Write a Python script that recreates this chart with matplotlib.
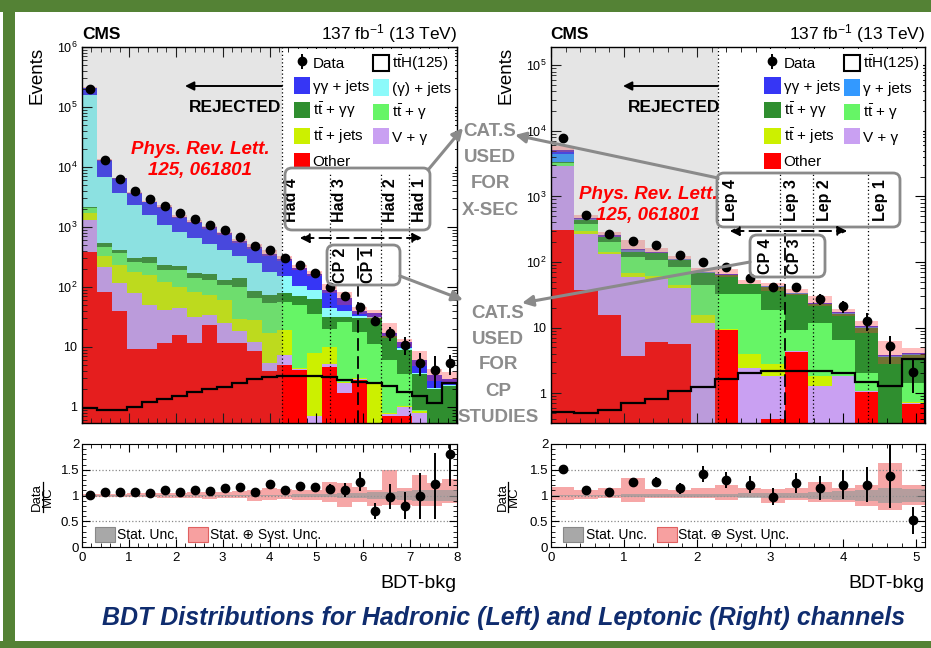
import numpy as np
import matplotlib
matplotlib.use('Agg')
import matplotlib.pyplot as plt
from matplotlib.patches import FancyBboxPatch, Rectangle, Patch, FancyArrowPatch
from matplotlib.lines import Line2D
from matplotlib.ticker import MultipleLocator, FixedLocator, NullFormatter, FuncFormatter

plt.rcParams['font.family'] = ['Liberation Sans', 'DejaVu Sans']
plt.rcParams['mathtext.fontset'] = 'custom'
plt.rcParams['mathtext.rm'] = 'Liberation Sans'
plt.rcParams['mathtext.it'] = 'Liberation Sans:italic'
plt.rcParams['mathtext.bf'] = 'Liberation Sans:bold'

# ---------------- DATA ----------------
had_edges = np.linspace(0, 8, 26)          # 25 bins of 0.32
lep_edges = np.linspace(0, 5.12, 17)       # 16 bins of 0.32

# Hadronic channel stack components (bottom -> top)
had_other = [390, 84, 40, 9.1, 9.1, 11.8, 15.8, 11.8, 23, 11.8, 11.8, 8.4, 4, 5, 4.1, 0.4, 4.7, 1.7, 2.8, 0.4, 0.7, 0.7, 0.4, 0.1, 0.1]
had_vg    = [910, 131, 75, 69, 41, 29, 28, 20, 11, 13, 7, 3.9, 1.3, 2.4, 0.2, 0.3, 0.5, 0.8, 0.1, 0.1, 0.05, 0.3, 0.4, 0.1, 0.1]
had_ttj   = [400, 110, 118, 102, 108, 82, 57, 52, 40, 36, 11, 16, 12, 12, 0.2, 7.3, 4.8, 0.1, 0.1, 2.0, 0.05, 0.05, 0.05, 0.05, 0.05]
had_ttg   = [400, 140, 130, 85, 90, 69, 91, 59, 57, 47, 71, 37, 37, 36, 45.5, 28, 10, 23.4, 15, 8.5, 5.2, 2.45, 0.05, 0.05, 0.05]
had_ttgg  = [50, 85, 52, 35, 64, 41, 32, 30, 32, 23, 42, 19, 20, 23, 20, 26, 12, 6, 12, 19, 9, 5.5, 2.6, 1.7, 1.9]
had_gj    = [158000, 6350, 3225, 2030, 1278, 847, 611, 472, 352, 284, 187, 163, 106, 72, 35, 28, 12, 7, 3, 1, 0.5, 0.5, 0.2, 0.1, 0.1]
had_gg    = [50000, 6100, 2820, 1310, 1050, 1100, 645, 585, 470, 365, 245, 221, 175, 140, 105, 75, 45, 26, 7, 6, 1.5, 2.5, 2.3, 1.3, 0.6]
had_tth   = [0.97, 0.89, 0.89, 1.01, 1.2, 1.34, 1.52, 1.8, 1.97, 2.18, 2.5, 2.9, 3.2, 3.3, 3.3, 3.3, 3.2, 2.8, 2.6, 2.5, 2.2, 1.8, 1.5, 1.18, 2.5]
had_data  = [2.0e5, 1.3e4, 6300, 4000, 2930, 2230, 1700, 1380, 1080, 890, 690, 490, 415, 300, 233, 172, 101, 71, 47, 27.5, 17, 10.8, 5.3, 4.2, 5.3]
had_data_elo = [450, 115, 80, 63, 54, 47, 41, 37, 33, 30, 26, 22, 20, 17, 15, 13, 10, 8.4, 6.9, 5.5, 4.2, 3.4, 2.0, 2.1, 1.9]
had_data_ehi = [450, 115, 80, 63, 54, 47, 41, 37, 33, 30, 26, 22, 20, 17, 15, 13, 10, 8.4, 6.9, 5.5, 4.2, 3.7, 2.5, 2.9, 2.1]

had_ratio     = [1.01, 1.06, 1.06, 1.07, 1.05, 1.10, 1.06, 1.11, 1.08, 1.15, 1.16, 1.07, 1.22, 1.11, 1.19, 1.17, 1.12, 1.11, 1.27, 0.70, 0.98, 0.80, 0.99, 1.22, 1.80]
had_ratio_elo = [0.01, 0.01, 0.01, 0.02, 0.02, 0.02, 0.02, 0.03, 0.03, 0.03, 0.04, 0.05, 0.05, 0.06, 0.06, 0.07, 0.10, 0.13, 0.19, 0.15, 0.24, 0.26, 0.44, 0.68, 0.62]
had_ratio_ehi = [0.01, 0.01, 0.01, 0.02, 0.02, 0.02, 0.02, 0.03, 0.03, 0.03, 0.04, 0.05, 0.05, 0.06, 0.06, 0.07, 0.10, 0.13, 0.19, 0.15, 0.24, 0.26, 0.44, 0.60, 0.40]
had_syst_lo = [0.97, 0.97, 0.97, 0.97, 0.97, 0.96, 0.96, 0.95, 0.94, 0.96, 0.95, 0.90, 0.92, 0.93, 0.92, 0.92, 0.88, 0.77, 0.88, 0.79, 0.82, 0.82, 0.79, 0.80, 0.85]
had_syst_hi = [1.03, 1.03, 1.03, 1.04, 1.04, 1.05, 1.05, 1.06, 1.07, 1.06, 1.08, 1.10, 1.15, 1.12, 1.10, 1.10, 1.27, 1.25, 1.17, 1.10, 1.50, 1.14, 1.40, 1.25, 1.33]
had_stat    = [0.005, 0.005, 0.005, 0.005, 0.005, 0.005, 0.005, 0.005, 0.005, 0.005, 0.005, 0.005, 0.01, 0.01, 0.02, 0.02, 0.03, 0.04, 0.05, 0.06, 0.07, 0.08, 0.10, 0.10, 0.10]

# Leptonic channel stack components (bottom -> top)
lep_other = [305, 37, 15.5, 3.7, 6.1, 5.7, 0.3, 9.1, 0.1, 0.4, 4.3, 0.35, 0.05, 1.05, 0.02, 0.69]
lep_vg    = [2600, 231, 115, 56, 49, 34, 11.3, 0.2, 2.3, 1.4, 0.05, 0.95, 1.75, 0.02, 0.02, 0.02]
lep_ttj   = [40, 34, 13, 9, 5, 4.5, 4, 0.3, 1.6, 1.0, 0.05, 0.5, 0.05, 0.02, 0.02, 0.02]
lep_ttg   = [250, 78, 60, 52, 47, 40.5, 29, 23.4, 29, 15.7, 4.8, 9.8, 4.5, 0.9, 0.02, 0.7]
lep_ttgg  = [100, 55, 33, 23, 28, 22, 24, 30, 12.5, 23.5, 23.8, 11, 9.7, 8.0, 3.5, 2.4]
lep_gj    = [1100, 18, 8, 6, 4, 2.5, 1, 1, 0.3, 0.4, 0.5, 0.6, 0.4, 0.2, 0.1, 0.1]
lep_gg    = [700, 20, 10, 10, 5, 3, 1.5, 1, 0.5, 0.6, 0.5, 0.8, 0.55, 0.3, 0.15, 0.1]
lep_tth   = [0.52, 0.50, 0.56, 0.71, 0.80, 1.08, 1.25, 1.67, 2.0, 2.2, 2.2, 2.2, 2.0, 1.5, 1.28, 3.3]
lep_data  = [7700, 525, 270, 210, 181, 128, 101, 84, 56, 42, 42, 27, 21, 12.7, 5.2, 2.1]
lep_data_elo = [88, 23, 16, 14.5, 13.5, 11.3, 10, 9.2, 7.5, 6.5, 6.5, 5.0, 4.2, 3.8, 2.4, 1.1]
lep_data_ehi = [88, 23, 16, 14.5, 13.5, 11.3, 10, 9.2, 7.5, 6.5, 6.5, 5.4, 4.6, 3.7, 2.2, 1.1]

lep_ratio     = [1.51, 1.11, 1.06, 1.27, 1.26, 1.14, 1.42, 1.30, 1.21, 0.98, 1.24, 1.14, 1.21, 1.21, 1.38, 0.52]
lep_ratio_elo = [0.02, 0.03, 0.03, 0.07, 0.09, 0.11, 0.15, 0.16, 0.17, 0.16, 0.20, 0.23, 0.28, 0.34, 0.62, 0.26]
lep_ratio_ehi = [0.02, 0.03, 0.03, 0.07, 0.09, 0.11, 0.15, 0.16, 0.17, 0.16, 0.20, 0.23, 0.28, 0.34, 0.62, 0.26]
lep_syst_lo = [0.92, 0.93, 0.95, 0.88, 0.95, 0.95, 0.95, 0.92, 0.98, 0.85, 0.92, 0.88, 0.88, 0.79, 0.72, 0.82]
lep_syst_hi = [1.17, 1.11, 1.14, 1.34, 1.12, 1.11, 1.14, 1.20, 1.14, 1.12, 1.14, 1.27, 1.14, 1.20, 1.63, 1.20]
lep_stat    = [0.01, 0.01, 0.01, 0.02, 0.02, 0.02, 0.03, 0.03, 0.04, 0.04, 0.05, 0.06, 0.08, 0.10, 0.15, 0.12]

had_cuts = [4.26, 5.28, 6.38, 6.98]
had_cut_names = ['Had 4', 'Had 3', 'Had 2', 'Had 1']
had_cp_cut = 5.88
lep_cuts = [2.29, 3.13, 3.58, 4.34]
lep_cut_names = ['Lep 4', 'Lep 3', 'Lep 2', 'Lep 1']
lep_cp_cut = 3.20

had_yticks = [1, 10, 1e2, 1e3, 1e4, 1e5, 1e6]
lep_yticks = [1, 10, 1e2, 1e3, 1e4, 1e5]
ratio_yticks = [0, 0.5, 1, 1.5, 2]
ratio_yticklabels = ['0', '0.5', '1', '1.5', '2']

comp_colors_had = ['#ff0000', '#c9a0f2', '#ccf000', '#66f566', '#2f8e2f', '#8cfafa', '#3636f5']
comp_colors_lep = ['#ff0000', '#c9a0f2', '#ccf000', '#66f566', '#2f8e2f', '#3399ff', '#3636f5']
labels_had = ['Other', 'V + γ', r'$\mathrm{t\bar{t}}$ + jets', r'$\mathrm{t\bar{t}}$ + γ', r'$\mathrm{t\bar{t}}$ + γγ', '(γ) + jets', 'γγ + jets']
labels_lep = ['Other', 'V + γ', r'$\mathrm{t\bar{t}}$ + jets', r'$\mathrm{t\bar{t}}$ + γ', r'$\mathrm{t\bar{t}}$ + γγ', 'γ + jets', 'γγ + jets']

cat_xsec_lines = ['CAT.S', 'USED', 'FOR', 'X-SEC']
cat_cp_lines = ['CAT.S', 'USED', 'FOR', 'CP', 'STUDIES']

# ---------------- FIGURE ----------------
W, H = 931, 648
fig = plt.figure(figsize=(W / 100, H / 100), dpi=100)
fig.patch.set_facecolor('white')
T = fig.dpi_scale_trans


def P(px, py):
    return (px / 100.0, (H - py) / 100.0)


def fx(px):
    return px / W


def fy(py):
    return 1 - py / H


# green frame
green = '#548235'
for (x0, y0, x1, y1) in [(0, 0, 931, 12), (3, 0, 15, 648), (0, 641, 931, 648)]:
    fig.add_artist(Rectangle(P(x0, y1), (x1 - x0) / 100, (y1 - y0) / 100, transform=T,
                             facecolor=green, edgecolor='none', zorder=0))


def logfmt(v, pos):
    e = int(round(np.log10(v)))
    if e == 0:
        return '1'
    if e == 1:
        return '10'
    return r'$10^{%d}$' % e


def minor_log_ticks(lo, hi):
    out = []
    for e in range(int(np.floor(np.log10(lo))), int(np.ceil(np.log10(hi))) + 1):
        for s in range(2, 10):
            v = s * 10.0 ** e
            if lo <= v <= hi:
                out.append(v)
    return out


def style_main(ax, xmax, ylo, yhi, yticks):
    ax.set_yscale('log')
    ax.set_xlim(0, xmax)
    ax.set_ylim(ylo, yhi)
    ax.yaxis.set_major_locator(FixedLocator(yticks))
    ax.yaxis.set_minor_locator(FixedLocator(minor_log_ticks(ylo, yhi)))
    ax.yaxis.set_major_formatter(FuncFormatter(logfmt))
    ax.yaxis.set_minor_formatter(NullFormatter())
    ax.xaxis.set_major_locator(MultipleLocator(1))
    ax.xaxis.set_minor_locator(MultipleLocator(0.2))
    ax.tick_params(which='both', direction='in', top=True, right=True, labelbottom=False, labelsize=9)
    ax.tick_params(which='major', length=7, width=0.8)
    ax.tick_params(which='minor', length=3.5, width=0.6)
    for s in ax.spines.values():
        s.set_linewidth(1.0)


def draw_main(ax, edges, comps, colors, tth, data, elo, ehi, slo, shi, cut):
    bottom = np.full(len(edges) - 1, 1e-3)
    for vals, c in zip(comps, colors):
        top = bottom + np.asarray(vals, float)
        ax.stairs(top, edges, baseline=bottom, fill=True, color=c, lw=0, zorder=1)
        bottom = top
    total = bottom
    ax.stairs(total * np.asarray(shi), edges, baseline=total * np.asarray(slo), fill=True,
              color='#ff3a3a', alpha=0.33, lw=0, zorder=2)
    ax.axvspan(0, cut, facecolor='#8c8c8c', alpha=0.22, lw=0, zorder=2.5)
    ax.stairs(tth, edges, color='black', lw=1.6, zorder=3)
    centers = 0.5 * (edges[:-1] + edges[1:])
    eb = ax.errorbar(centers, data, yerr=[elo, ehi], fmt='o', color='black', ms=6,
                     elinewidth=1.4, capsize=0, zorder=6)
    return eb


def draw_ratio(ax, edges, xmax, ratio, elo, ehi, slo, shi, stat):
    ax.set_xlim(0, xmax)
    ax.set_ylim(0, 2)
    ax.stairs(shi, edges, baseline=slo, fill=True, color='#f48a8a', alpha=0.75, lw=0, zorder=1)
    ax.stairs(1 + np.asarray(stat), edges, baseline=1 - np.asarray(stat), fill=True,
              color='#9a9a9a', alpha=0.7, lw=0, zorder=2)
    for yv in (0.5, 1.0, 1.5):
        ax.axhline(yv, color='#888888', lw=0.9, ls=':', zorder=1.5)
    centers = 0.5 * (edges[:-1] + edges[1:])
    ax.errorbar(centers, ratio, yerr=[elo, ehi], fmt='o', color='black', ms=6,
                elinewidth=1.4, capsize=0, zorder=5)
    ax.yaxis.set_major_locator(FixedLocator(ratio_yticks))
    ax.set_yticklabels(ratio_yticklabels)
    ax.yaxis.set_minor_locator(MultipleLocator(0.1))
    ax.xaxis.set_major_locator(MultipleLocator(1))
    ax.xaxis.set_minor_locator(MultipleLocator(0.2))
    ax.tick_params(which='both', direction='in', top=True, right=True, labelsize=9.5)
    ax.tick_params(axis='y', pad=2)
    ax.tick_params(which='major', length=6, width=0.8)
    ax.tick_params(which='minor', length=3, width=0.6)


# axes
axL = fig.add_axes([fx(82), fy(423), 375 / W, 376 / H])
axLr = fig.add_axes([fx(82), fy(547), 375 / W, 103 / H])
axR = fig.add_axes([fx(551), fy(423), 374 / W, 376 / H])
axRr = fig.add_axes([fx(551), fy(547), 374 / W, 103 / H])

style_main(axL, 8, 0.54, 1e6, had_yticks)
style_main(axR, 5.12, 0.35, 1.9e5, lep_yticks)

compsL = [had_other, had_vg, had_ttj, had_ttg, had_ttgg, had_gj, had_gg]
compsR = [lep_other, lep_vg, lep_ttj, lep_ttg, lep_ttgg, lep_gj, lep_gg]
ebL = draw_main(axL, had_edges, compsL, comp_colors_had, had_tth, had_data, had_data_elo, had_data_ehi,
                had_syst_lo, had_syst_hi, had_cuts[0])
ebR = draw_main(axR, lep_edges, compsR, comp_colors_lep, lep_tth, lep_data, lep_data_elo, lep_data_ehi,
                lep_syst_lo, lep_syst_hi, lep_cuts[0])

draw_ratio(axLr, had_edges, 8, had_ratio, had_ratio_elo, had_ratio_ehi, had_syst_lo, had_syst_hi, had_stat)
draw_ratio(axRr, lep_edges, 5.12, lep_ratio, lep_ratio_elo, lep_ratio_ehi, lep_syst_lo, lep_syst_hi, lep_stat)

# cut lines
for i, c in enumerate(had_cuts):
    axL.axvline(c, ymin=0, ymax=1 if i == 0 else 0.678, color='black', ls=(0, (1, 2)), lw=0.9, zorder=4)
for i, c in enumerate(lep_cuts):
    axR.axvline(c, ymin=0, ymax=1 if i == 0 else 0.665, color='black', ls=(0, (1, 2)), lw=0.9, zorder=4)
axL.axvline(had_cp_cut, ymin=0, ymax=0.479, color='black', ls=(0, (7, 3)), lw=1.3, zorder=4)
axR.axvline(lep_cp_cut, ymin=0, ymax=0.505, color='black', ls=(0, (7, 3)), lw=1.3, zorder=4)


# legends
def make_legend(ax, eb, labels, colors):
    hs = [Patch(facecolor=c, edgecolor='none') for c in colors]
    tth_h = Patch(facecolor='white', edgecolor='black', lw=1.5)
    handles = [eb, hs[6], hs[4], hs[2], hs[0], tth_h, hs[5], hs[3], hs[1]]
    labs = ['Data', labels[6], labels[4], labels[2], labels[0], r'$\mathrm{t\bar{t}}$H(125)', labels[5], labels[3], labels[1]]
    leg = ax.legend(handles, labs, ncol=2, loc='upper right', bbox_to_anchor=(1.0, 1.0),
                    borderaxespad=0.15, frameon=True, facecolor='white', edgecolor='none', framealpha=1,
                    fancybox=False, fontsize=11, handlelength=1.05, handleheight=1.25, handletextpad=0.2,
                    columnspacing=0.25, labelspacing=0.42, borderpad=0.25)
    leg.set_zorder(7)
    return leg


make_legend(axL, ebL, labels_had, comp_colors_had)
make_legend(axR, ebR, labels_lep, comp_colors_lep)

# cut labels
for c, name in zip(had_cuts, had_cut_names):
    axL.text(c + 0.21, 0.593, name, rotation=90, ha='center', va='center', fontsize=11.5,
             fontweight='bold', transform=axL.get_xaxis_transform(), zorder=8)
for c, name in zip(lep_cuts, lep_cut_names):
    axR.text(c + 0.165, 0.593, name, rotation=90, ha='center', va='center', fontsize=11.5,
             fontweight='bold', transform=axR.get_xaxis_transform(), zorder=8)
axL.text(had_cp_cut - 0.36, 0.42, 'CP 2', rotation=90, ha='center', va='center', fontsize=11.5,
         fontweight='bold', transform=axL.get_xaxis_transform(), zorder=8)
axL.text(had_cp_cut + 0.24, 0.42, 'CP 1', rotation=90, ha='center', va='center', fontsize=11.5,
         fontweight='bold', transform=axL.get_xaxis_transform(), zorder=8)
axR.text(lep_cp_cut - 0.27, 0.444, 'CP 4', rotation=90, ha='center', va='center', fontsize=11.5,
         fontweight='bold', transform=axR.get_xaxis_transform(), zorder=8)
axR.text(lep_cp_cut + 0.14, 0.444, 'CP 3', rotation=90, ha='center', va='center', fontsize=11.5,
         fontweight='bold', transform=axR.get_xaxis_transform(), zorder=8)

# rounded boxes
grey = '#8a8a8a'
for (x0, y0, x1, y1) in [(285, 168, 430, 230), (327, 245, 400, 285), (717, 173, 900, 227), (750, 235, 825, 277)]:
    fig.add_artist(FancyBboxPatch(P(x0, y1), (x1 - x0) / 100, (y1 - y0) / 100,
                                  boxstyle='round,pad=0,rounding_size=0.07', transform=T,
                                  facecolor='none', edgecolor=grey, lw=2.0, zorder=9))

# dashed double arrows
for (xa, xb, yy) in [(297, 425, 238), (727, 850, 231)]:
    fig.add_artist(FancyArrowPatch(P(xa, yy), P(xb, yy), transform=T, arrowstyle='<|-|>',
                                   mutation_scale=14, color='black', lw=1.4, ls=(0, (6, 3)), zorder=9))

# grey arrows to CAT.S texts
for (a, b) in [((428, 170), (463, 128)), ((400, 276), (463, 300)), ((718, 178), (515, 135)), ((750, 262), (522, 303))]:
    fig.add_artist(FancyArrowPatch(P(*a), P(*b), transform=T, arrowstyle='-|>', mutation_scale=16,
                                   color=grey, lw=2.2, zorder=9, shrinkA=0, shrinkB=0))

# REJECTED arrows and text
for (xa, xb) in [(282, 185), (718, 623)]:
    fig.add_artist(FancyArrowPatch(P(xa, 86), P(xb, 86), transform=T, arrowstyle='-|>', mutation_scale=13,
                                   color='black', lw=1.4, zorder=9, shrinkA=0, shrinkB=0))
fig.text(fx(281), fy(107), 'REJECTED', ha='right', va='center', fontsize=12.5, fontweight='bold', zorder=10)
fig.text(fx(720), fy(107), 'REJECTED', ha='right', va='center', fontsize=12.5, fontweight='bold', zorder=10)

# Phys Rev Lett
for (cx, cy) in [(200, 160), (648, 205)]:
    fig.text(fx(cx), fy(cy), 'Phys. Rev. Lett.\n125, 061801', ha='center', va='center', fontsize=13.5,
             fontweight='bold', fontstyle='italic', color='#ff0000', linespacing=1.25, zorder=10)

# CAT.S texts (one text per line)
for i, line in enumerate(cat_xsec_lines):
    fig.text(fx(490), fy(131 + 26.5 * i), line, ha='center', va='center', fontsize=13.5,
             fontweight='bold', color='#8c8c8c', zorder=10)
for i, line in enumerate(cat_cp_lines):
    fig.text(fx(498), fy(313 + 26 * i), line, ha='center', va='center', fontsize=13.5,
             fontweight='bold', color='#8c8c8c', zorder=10)

# headers
for (xl, xr) in [(82, 457), (550, 925)]:
    fig.text(fx(xl), fy(39), 'CMS', ha='left', va='baseline', fontsize=12.5, fontweight='bold')
    fig.text(fx(xr), fy(39), r'137 fb$^{-1}$ (13 TeV)', ha='right', va='baseline', fontsize=12.5)
    fig.text(fx(xr), fy(583), 'BDT-bkg', ha='right', va='center', fontsize=14)

fig.text(fx(37), fy(47), 'Events', rotation=90, ha='center', va='top', fontsize=13.5)
fig.text(fx(506), fy(47), 'Events', rotation=90, ha='center', va='top', fontsize=13.5)

# Data / MC fraction labels of the ratio panels
for xc in (42, 508):
    fig.text(fx(xc - 5), fy(497), 'Data', rotation=90, ha='center', va='center', fontsize=9.5)
    fig.text(fx(xc + 6), fy(497), 'MC', rotation=90, ha='center', va='center', fontsize=9.5)
    fig.add_artist(Line2D([fx(xc + 0.5), fx(xc + 0.5)], [fy(512), fy(482)], transform=fig.transFigure,
                          color='black', lw=0.9))

# ratio legends
for (gx, px_, tx1, tx2) in [(95, 188, 117, 210), (563, 657, 586, 678)]:
    fig.add_artist(Rectangle(P(gx, 542), 0.20, 0.15, transform=T, facecolor='#a8a8a8', edgecolor='#888888', lw=0.8, zorder=9))
    fig.add_artist(Rectangle(P(px_, 542), 0.20, 0.15, transform=T, facecolor='#f7a0a0', edgecolor='#e06060', lw=0.8, zorder=9))
    fig.text(fx(tx1), fy(535), 'Stat. Unc.', ha='left', va='center', fontsize=10, zorder=10)
    fig.text(fx(tx2), fy(535), 'Stat. ⊕ Syst. Unc.', ha='left', va='center', fontsize=10, zorder=10)

# bottom title
fig.text(fx(504), fy(618), 'BDT Distributions for Hadronic (Left) and Leptonic (Right) channels',
         ha='center', va='center', fontsize=18, fontweight='bold', fontstyle='italic', color='#0f2c6e')

fig.savefig('out.png', dpi=100, facecolor=fig.get_facecolor())
